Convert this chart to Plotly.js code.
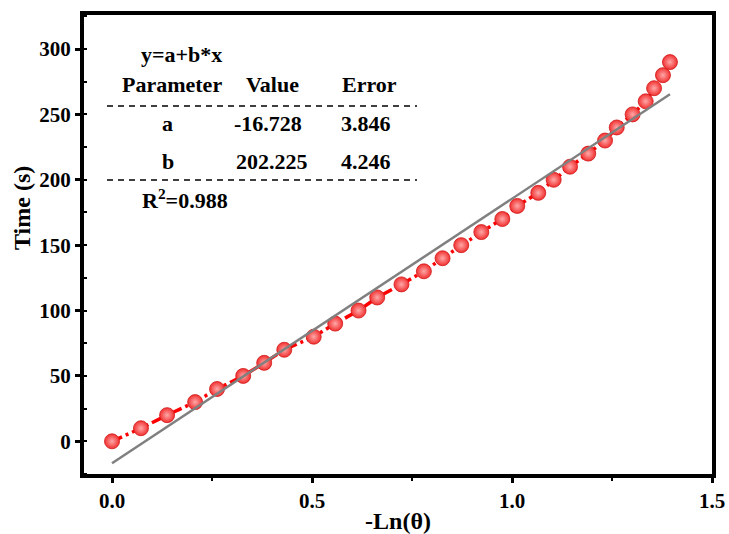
<!DOCTYPE html>
<html>
<head>
<meta charset="utf-8">
<script src="https://cdn.plot.ly/plotly-3.0.1.min.js"></script>
<style>html,body{margin:0;padding:0;background:#fff;}#chart{width:729px;height:534px;}</style>
</head>
<body>
<div id="chart"></div>
<script>
// ---- data ----
const lnTheta = [0, 0.0724, 0.1377, 0.2078, 0.2626, 0.328, 0.3805, 0.4307, 0.5043, 0.558,
  0.6163, 0.663, 0.7237, 0.7797, 0.8264, 0.8731, 0.9233, 0.9758, 1.0132, 1.0657,
  1.1042, 1.1451, 1.1906, 1.2326, 1.2618, 1.3015, 1.3342, 1.3552, 1.3774, 1.3949];
const timeS = [0, 10, 20, 30, 40, 50, 60, 70, 80, 90, 100, 110, 120, 130, 140, 150,
  160, 170, 180, 190, 200, 210, 220, 230, 240, 250, 260, 270, 280, 290];
const fitA = -16.728, fitB = 202.225, fitErrA = 3.846, fitErrB = 4.246, fitR2 = 0.988;
const xTickVals = [0, 0.5, 1.0, 1.5];
const yTickVals = [0, 50, 100, 150, 200, 250, 300];
const xTitle = '-Ln(θ)';
const yTitle = 'Time (s)';

const FONT = "Liberation Serif, Times New Roman, serif";

const fitX = [Math.min(...lnTheta), Math.max(...lnTheta)];
const fitY = fitX.map(v => fitA + fitB * v);

const traces = [
  {
    x: lnTheta, y: timeS, type: 'scatter', mode: 'lines+markers',
    line: {color: '#ff0000', width: 3.5, dash: '11px,4px,3px,4px'},
    marker: {size: 15, color: '#f23030', line: {color: '#d01818', width: 0.8},
             gradient: {type: 'radial', color: '#ffa8a8'}},
    showlegend: false, hoverinfo: 'x+y'
  },
  {
    x: fitX, y: fitY, type: 'scatter', mode: 'lines',
    line: {color: '#808080', width: 2.5},
    showlegend: false, hoverinfo: 'skip'
  }
];

// plot area in pixels: x 84..712, y 15..474
const L = 84, R = 712, T = 15, B = 474;
const px = v => (v - L) / (R - L);
const py = v => (B - v) / (B - T);

function ann(text, x, y, anchor) {
  return {text: text, xref: 'paper', yref: 'paper', x: px(x), y: py(y),
    xanchor: anchor || 'center', yanchor: 'middle', showarrow: false,
    font: {family: FONT, size: 22, color: '#000', weight: 'bold'}};
}

const annotations = [
  ann('y=a+b*x', 181, 55),
  ann('Parameter', 172, 84), ann('Value', 272, 84), ann('Error', 369, 84),
  ann('a', 167, 124), ann(fitA.toFixed(3), 268, 124), ann(fitErrA.toFixed(3), 366, 124),
  ann('b', 168, 161), ann(fitB.toFixed(3), 272, 161), ann(fitErrB.toFixed(3), 366, 161),
  ann('R<sup>2</sup>=' + fitR2.toFixed(3), 185, 199),
  Object.assign(ann(yTitle, 22, 208), {textangle: -90,
    font: {family: FONT, size: 24, color: '#000', weight: 'bold'}})
];

const shapes = [106, 180].map(yy => ({
  type: 'line', xref: 'paper', yref: 'paper', x0: px(107), x1: px(417), y0: py(yy), y1: py(yy),
  line: {color: '#000', width: 1.3, dash: '6px,5px'}
}));

const axisCommon = {
  showline: true, linewidth: 4, linecolor: '#000', mirror: true,
  showgrid: false, zeroline: false,
  ticks: 'outside', ticklen: 5, tickwidth: 3, tickcolor: '#000',
  tickfont: {family: FONT, size: 21, color: '#000', weight: 'bold'},
  automargin: false
};

const layout = {
  width: 729, height: 534, autosize: false,
  margin: {l: L, r: 729 - R, t: T, b: 534 - B},
  paper_bgcolor: '#fff', plot_bgcolor: '#fff',
  xaxis: Object.assign({}, axisCommon, {
    range: [-0.07, 1.5], tickmode: 'array', tickvals: xTickVals,
    ticktext: xTickVals.map(v => v.toFixed(1)),
    minor: {dtick: 0.25, tick0: 0, ticks: 'outside', ticklen: 3, tickwidth: 2, tickcolor: '#000'},
    title: {text: xTitle, font: {family: FONT, size: 24, color: '#000', weight: 'bold'}, standoff: 6}
  }),
  yaxis: Object.assign({}, axisCommon, {
    range: [-25, 326], tickmode: 'array', tickvals: yTickVals,
    minor: {dtick: 25, tick0: 0, ticks: 'inside', ticklen: 3, tickwidth: 2, tickcolor: '#000'}
  }),
  annotations: annotations,
  shapes: shapes
};

Plotly.newPlot('chart', traces, layout, {displayModeBar: false, staticPlot: true});
</script>
</body>
</html>
